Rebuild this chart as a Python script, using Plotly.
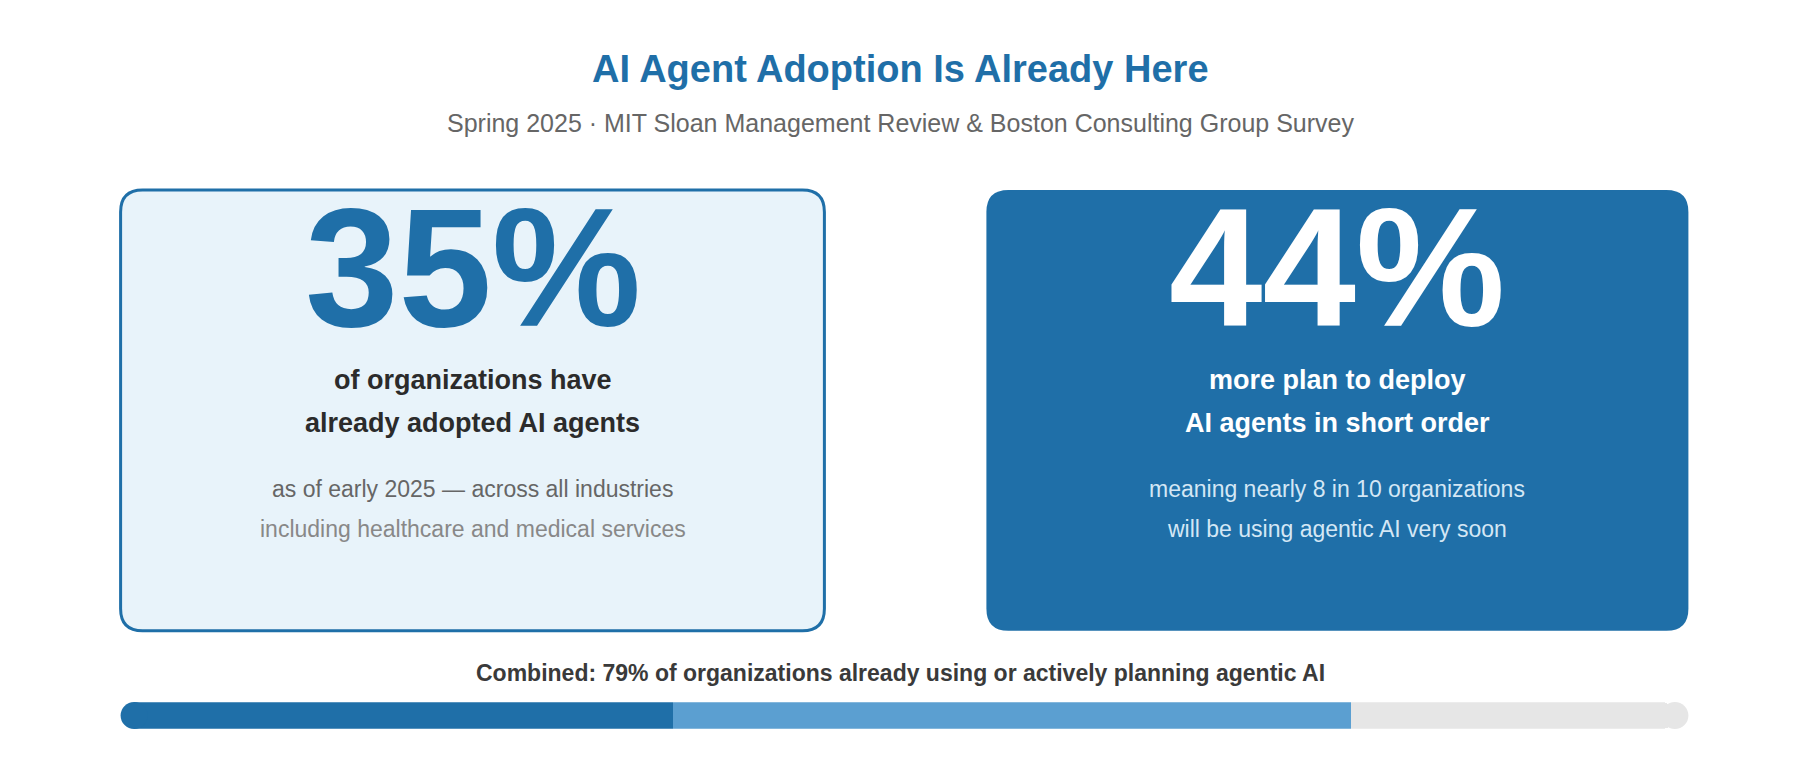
import plotly.graph_objects as go

W, H = 1800, 760
DX, DY = -8 / W, 8 / H   # compensate page margin

# ── data ──────────────────────────────────────────────────────────────────────
adopted = 35
planning = 44
remaining = 100 - adopted - planning
combined = adopted + planning

title = "AI Agent Adoption Is Already Here"
subtitle = "Spring 2025 · MIT Sloan Management Review & Boston Consulting Group Survey"
left_lines = ["of organizations have", "already adopted AI agents"]
left_notes = ["as of early 2025 — across all industries", "including healthcare and medical services"]
right_lines = ["more plan to deploy", "AI agents in short order"]
right_notes = ["meaning nearly 8 in 10 organizations", "will be using agentic AI very soon"]

DARK = "#1f6fa8"
LIGHT = "#5b9fd1"
TRACK = "#e6e6e6"
FONT = "Liberation Sans, Arial, sans-serif"


def rounded_rect(x0, y0, x1, y1, r_px=22):
    x0, x1, y0, y1 = x0 + DX, x1 + DX, y0 + DY, y1 + DY
    rx, ry = r_px / W, r_px / H
    return (f"M{x0+rx},{y0} L{x1-rx},{y0} Q{x1},{y0} {x1},{y0+ry} "
            f"L{x1},{y1-ry} Q{x1},{y1} {x1-rx},{y1} L{x0+rx},{y1} "
            f"Q{x0},{y1} {x0},{y1-ry} L{x0},{y0+ry} Q{x0},{y0} {x0+rx},{y0} Z")


fig = go.Figure()

# progress bar: stacked segments
for val, col in [(adopted, DARK), (planning, LIGHT), (remaining, TRACK)]:
    fig.add_trace(go.Bar(x=[val], y=[0], orientation="h", marker=dict(color=col, line=dict(width=0)),
                         width=1, showlegend=False, hoverinfo="skip"))
# rounded ends
fig.add_trace(go.Scatter(x=[0, 100], y=[0, 0], mode="markers",
                         marker=dict(size=27, color=[DARK, TRACK], line=dict(width=0)),
                         showlegend=False, hoverinfo="skip"))

# cards
L0, L1 = 0.067, 0.458
R0, R1 = 0.548, 0.938
YB, YT = 0.17, 0.75
fig.add_shape(type="path", xref="paper", yref="paper", path=rounded_rect(L0, YB, L1, YT),
              fillcolor="#e8f3fa", line=dict(color=DARK, width=3), layer="below")
fig.add_shape(type="path", xref="paper", yref="paper", path=rounded_rect(R0, YB, R1, YT),
              fillcolor=DARK, line=dict(color=DARK, width=0), layer="below")

ann = []
def txt(x, y, text, size, color, bold=False):
    ann.append(dict(x=x + DX, y=y + DY, xref="paper", yref="paper", showarrow=False,
                    xanchor="center", yanchor="middle",
                    text=f"<b>{text}</b>" if bold else text,
                    font=dict(size=size, color=color, family=FONT)))

txt(0.5, 0.909, title, 38, DARK, True)
txt(0.5, 0.838, subtitle, 25, "#666666")

lc, rc = (L0 + L1) / 2, (R0 + R1) / 2
txt(lc, 0.648, f"{adopted}%", 168, DARK, True)
txt(rc, 0.648, f"{planning}%", 168, "white", True)
for i, (a, b) in enumerate(zip(left_lines, right_lines)):
    y = 0.5 - i * 0.056
    txt(lc, y, a, 27, "#2b2b2b", True)
    txt(rc, y, b, 27, "white", True)
for i, (a, b) in enumerate(zip(left_notes, right_notes)):
    y = 0.357 - i * 0.053
    txt(lc, y, a, 23, "#666666" if i == 0 else "#888888")
    txt(rc, y, b, 23, "#d4e7f5")
txt(0.5, 0.114, f"Combined: {combined}% of organizations already using or actively planning agentic AI",
    23, "#3a3a3a", True)

fig.update_layout(
    width=W, height=H, barmode="stack", barcornerradius=14,
    margin=dict(l=0, r=0, t=0, b=0),
    paper_bgcolor="white", plot_bgcolor="rgba(0,0,0,0)",
    xaxis=dict(domain=[0.067 + 13.5 / W + DX, 0.938 - 13.5 / W + DX], range=[0, 100],
               visible=False, fixedrange=True),
    yaxis=dict(domain=[0.041 + DY, 0.076 + DY], range=[-0.5, 0.5], visible=False, fixedrange=True),
    annotations=ann,
)
fig.update_traces(cliponaxis=False, selector=dict(type="scatter"))

fig.write_html("out.html")
